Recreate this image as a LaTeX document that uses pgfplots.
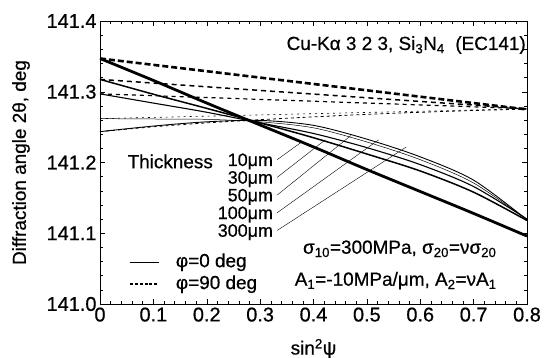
\documentclass[border=0pt]{standalone}
\usepackage{pgfplots}
\pgfplotsset{compat=1.18}
\usepackage{fontspec}
\setmainfont{Liberation Sans}[FakeBold=0.6]
\begin{document}
\begin{tikzpicture}
\useasboundingbox (-100bp,-54bp) rectangle (445bp,304bp);
\begin{axis}[at={(0,0)}, anchor=south west, scale only axis,
  width=427bp, height=283bp,
  xmin=0, xmax=0.8, ymin=141.0, ymax=141.4,
  xtick={0,0.1,0.2,0.3,0.4,0.5,0.6,0.7,0.8},
  ytick={141.0,141.1,141.2,141.3,141.4},
  minor x tick num=4, minor y tick num=4,
  tick style={black, line width=0.5pt},
  major tick length=5bp, minor tick length=3bp,
  font=\fontsize{19}{22}\selectfont,
  tick label style={font=\fontsize{20}{22}\selectfont},
  /pgf/number format/assume math mode=true,
  yticklabel style={/pgf/number format/.cd,fixed,fixed zerofill,precision=1},
  xticklabel style={/pgf/number format/.cd,fixed,precision=1},
  xlabel={sin\textsuperscript{2}ψ},
  ylabel={Diffraction angle 2θ, deg},
  every axis x label/.style={at={(axis description cs:0.5,-0.158)}, anchor=center},
  every axis y label/.style={at={(axis description cs:-0.185,0.5)}, rotate=90, anchor=center},
  axis line style={line width=0.6pt},
  clip=true,
]
% phi = 90 deg (dashed)
\addplot[black, line width=2.6pt, dash pattern=on 6pt off 3pt] coordinates {(0,141.347)(0.2,141.329)(0.4,141.311)(0.6,141.293)(0.8,141.275)};
\addplot[black, line width=1.5pt, dash pattern=on 5pt off 4pt] coordinates {(0,141.3175)(0.2,141.307)(0.4,141.2967)(0.6,141.2863)(0.8,141.276)};
\addplot[black, line width=1.2pt, dash pattern=on 4pt off 4pt] coordinates {(0,141.297)(0.2,141.2918)(0.4,141.2866)(0.6,141.2814)(0.8,141.276)};
\addplot[black, line width=0.6pt, dash pattern=on 2pt off 4pt] coordinates {(0,141.262)(0.2,141.2655)(0.4,141.269)(0.6,141.2725)(0.8,141.276)};
\addplot[black, line width=0.8pt, dash pattern=on 3pt off 3pt, smooth] coordinates {(0,141.2436)(0.1,141.2505)(0.2,141.256)(0.3,141.2605)(0.4,141.2645)(0.5,141.268)(0.6,141.271)(0.7,141.2735)(0.8,141.2755)};
% phi = 0 deg (solid)
\addplot[black, line width=0.9pt, smooth] coordinates {(0,141.2436)(0.1,141.2515)(0.2,141.2575)(0.3,141.2595)(0.4,141.2525)(0.5,141.233)(0.6,141.208)(0.7,141.175)(0.8,141.119)};
\addplot[black, line width=0.5pt, smooth] coordinates {(0,141.262)(0.1,141.2615)(0.2,141.261)(0.3,141.2575)(0.4,141.249)(0.5,141.229)(0.6,141.204)(0.7,141.171)(0.8,141.119)};
\addplot[black, line width=1.1pt, smooth] coordinates {(0,141.297)(0.1,141.284)(0.2,141.271)(0.3,141.256)(0.4,141.241)(0.5,141.221)(0.6,141.197)(0.7,141.166)(0.8,141.120)};
\addplot[black, line width=1.5pt, smooth] coordinates {(0,141.3175)(0.1,141.2965)(0.2,141.2765)(0.3,141.256)(0.4,141.235)(0.5,141.212)(0.6,141.188)(0.7,141.158)(0.8,141.118)};
\addplot[black, line width=2.8pt, smooth] coordinates {(0,141.347)(0.1,141.316)(0.2,141.284)(0.3,141.253)(0.4,141.222)(0.5,141.19)(0.6,141.159)(0.7,141.128)(0.8,141.096)};
% leader lines
\draw[line width=0.4pt] (axis cs:0.332,141.204) -- (axis cs:0.376,141.228);
\draw[line width=0.4pt] (axis cs:0.332,141.179) -- (axis cs:0.422,141.232);
\draw[line width=0.4pt] (axis cs:0.332,141.154) -- (axis cs:0.470,141.238);
\draw[line width=0.4pt] (axis cs:0.332,141.129) -- (axis cs:0.522,141.232);
\draw[line width=0.4pt] (axis cs:0.332,141.104) -- (axis cs:0.574,141.222);
% labels
\node[anchor=center, inner sep=0.5pt] at (axis cs:0.1316,141.2015) {Thickness};
\begin{scope}[every node/.style={anchor=east, inner sep=0.3pt, font=\fontsize{18}{20}\selectfont}]
\node at (axis cs:0.325,141.2015) {10μm};
\node at (axis cs:0.325,141.1765) {30μm};
\node at (axis cs:0.325,141.1515) {50μm};
\node at (axis cs:0.325,141.1265) {100μm};
\node at (axis cs:0.325,141.1015) {300μm};
\end{scope}
\node[anchor=east, inner sep=1pt] at (axis cs:0.8,141.366) {Cu-Kα 3 2 3, Si\textsubscript{3}N\textsubscript{4}\ \ (EC141)};
\node[anchor=center, inner sep=1pt] at (axis cs:0.5616,141.078) {σ\textsubscript{10}=300MPa, σ\textsubscript{20}=νσ\textsubscript{20}};
\node[anchor=center, inner sep=1pt] at (axis cs:0.554,141.033) {A\textsubscript{1}=-10MPa/μm, A\textsubscript{2}=νA\textsubscript{1}};
% legend
\draw[line width=1.5pt] (axis cs:0.0554,141.059) -- (axis cs:0.1107,141.059);
\draw[line width=1.5pt, dash pattern=on 3pt off 2pt] (axis cs:0.0554,141.028) -- (axis cs:0.1107,141.028);
\node[anchor=west, inner sep=1pt] at (axis cs:0.14,141.059) {φ=0 deg};
\node[anchor=west, inner sep=1pt] at (axis cs:0.14,141.028) {φ=90 deg};
\end{axis}
\end{tikzpicture}
\end{document}
